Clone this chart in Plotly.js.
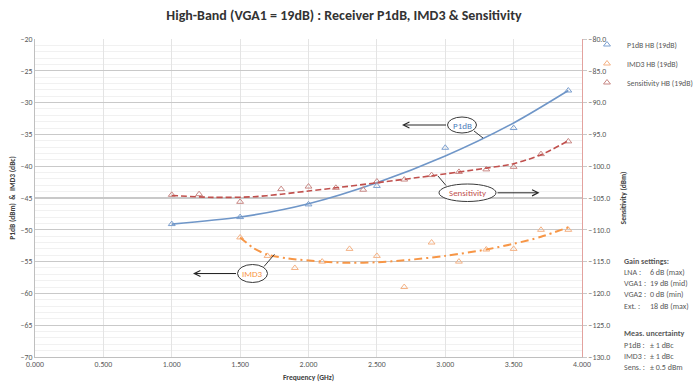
<!DOCTYPE html>
<html>
<head>
<meta charset="utf-8">
<script src="https://cdn.plot.ly/plotly-3.0.1.min.js"></script>
<style>
  html, body { margin: 0; padding: 0; background: #ffffff; }
  #chart { width: 696px; height: 384px; }
</style>
</head>
<body>
<div id="chart"></div>
<script>
// ---- Data ----
const freqP1dB = [1.0, 1.5, 2.0, 2.5, 3.0, 3.5, 3.9];
const p1dB     = [-49.1, -48.0, -46.0, -43.1, -37.1, -34.0, -28.1];

const freqIMD3 = [1.5, 1.7, 1.9, 2.1, 2.3, 2.5, 2.7, 2.9, 3.1, 3.3, 3.5, 3.7, 3.9];
const imd3     = [-51.2, -54.1, -56.0, -55.0, -53.0, -54.1, -59.0, -52.0, -55.0, -53.1, -53.0, -50.0, -50.0];

const freqSens = [1.0, 1.2, 1.5, 1.8, 2.0, 2.2, 2.4, 2.5, 2.7, 2.9, 3.1, 3.3, 3.5, 3.7, 3.9];
const sens     = [-104.5, -104.4, -105.6, -103.6, -103.2, -103.4, -103.7, -102.4, -102.1, -101.4, -100.9, -100.5, -100.1, -98.1, -96.1];

// Trendlines
const p1dBTrendX = [1.0, 1.5, 2.0, 2.5, 3.0, 3.5, 3.9];
const p1dBTrendY = [-49.1, -48.0, -45.9, -42.6, -38.4, -33.2, -28.1];

const sensTrendX = [1.0, 1.3, 1.6, 1.8, 2.0, 2.2, 2.5, 2.9, 3.3, 3.5, 3.7, 3.9];
const sensTrendY = [-104.6, -104.9, -104.8, -104.4, -103.9, -103.4, -102.6, -101.5, -100.3, -99.6, -98.2, -96.0];

const imd3TrendX = [1.5, 1.6, 1.7, 1.85, 2.1, 2.3, 2.5, 2.7, 3.0, 3.3, 3.5, 3.7, 3.9];
const imd3TrendY = [-51.2, -52.9, -53.9, -54.5, -55.0, -55.2, -55.1, -54.8, -54.1, -53.1, -52.2, -51.1, -49.6];

const seriesNames = ['P1dB HB (19dB)', 'IMD3 HB (19dB)', 'Sensitivity HB (19dB)'];
const titleText = 'High-Band (VGA1 = 19dB) : Receiver P1dB, IMD3 &amp; Sensitivity';
const xTitle = 'Frequency (GHz)';
const yTitle = 'P1dB (dBm)  &amp;  IMD3 (dBc)';
const y2Title = 'Sensitivity (dBm)';
const gainLabels = ['LNA :', 'VGA1 :', 'VGA2 :', 'Ext. :'];
const gainValues = ['6 dB (max)', '19 dB (mid)', '0 dB (min)', '18 dB (max)'];
const uncLabels = ['P1dB :', 'IMD3 :', 'Sens. :'];
const uncValues = ['± 1 dBc', '± 1 dBc', '± 0.5 dBm'];

// ---- Styling ----
const FONT = 'Carlito, Lato, "Liberation Sans", sans-serif';
const BLUE = '#4f81bd', RED = '#c0504d', ORANGE = '#f79646';
const M = {l: 35, r: 114, t: 39, b: 27, autoexpand: false};
const W = 696 - M.l - M.r, H = 384 - M.t - M.b;
const PX = px => (px - M.l) / W;          // page pixel -> paper x
const PY = py => (384 - M.b - py) / H;    // page pixel -> paper y

const traces = [
  {x: freqP1dB, y: p1dB, name: seriesNames[0], type: 'scatter', mode: 'markers',
   marker: {symbol: 'triangle-up-open', size: 6, color: '#7b9fcf', line: {width: 1}}},
  {x: freqIMD3, y: imd3, name: seriesNames[1], type: 'scatter', mode: 'markers',
   marker: {symbol: 'triangle-up-open', size: 6, color: '#f4b183', line: {width: 1}}},
  {x: freqSens, y: sens, name: seriesNames[2], type: 'scatter', mode: 'markers', yaxis: 'y2',
   marker: {symbol: 'triangle-up-open', size: 6, color: '#c88784', line: {width: 1}}},
  {x: p1dBTrendX, y: p1dBTrendY, type: 'scatter', mode: 'lines', showlegend: false, hoverinfo: 'skip',
   line: {color: '#6f96c8', width: 1.6, shape: 'spline', smoothing: 0.8}},
  {x: sensTrendX, y: sensTrendY, type: 'scatter', mode: 'lines', showlegend: false, hoverinfo: 'skip', yaxis: 'y2',
   line: {color: RED, width: 1.6, dash: '6px,3px', shape: 'spline', smoothing: 0.8}},
  {x: imd3TrendX, y: imd3TrendY, type: 'scatter', mode: 'lines', showlegend: false, hoverinfo: 'skip',
   line: {color: ORANGE, width: 2, dash: '8px,4px,2px,4px', shape: 'spline', smoothing: 0.8}}
];

const txt = {family: FONT, size: 8, color: '#595959'};
const annotations = [];
const shapes = [];

// Gain settings / measurement uncertainty text block
const boxX1 = PX(622), boxX2 = PX(648);
annotations.push({xref: 'paper', yref: 'paper', x: boxX1, y: PY(261), xanchor: 'left', yanchor: 'middle',
  text: '<b>Gain settings:</b>', showarrow: false, font: txt});
[272, 283, 294, 306].forEach((py, i) => {
  annotations.push({xref: 'paper', yref: 'paper', x: boxX1, y: PY(py), xanchor: 'left', yanchor: 'middle',
    text: gainLabels[i], showarrow: false, font: txt});
  annotations.push({xref: 'paper', yref: 'paper', x: boxX2, y: PY(py), xanchor: 'left', yanchor: 'middle',
    text: gainValues[i], showarrow: false, font: txt});
});
annotations.push({xref: 'paper', yref: 'paper', x: boxX1, y: PY(333), xanchor: 'left', yanchor: 'middle',
  text: '<b>Meas. uncertainty</b>', showarrow: false, font: txt});
[345, 356, 367].forEach((py, i) => {
  annotations.push({xref: 'paper', yref: 'paper', x: boxX1, y: PY(py), xanchor: 'left', yanchor: 'middle',
    text: uncLabels[i], showarrow: false, font: txt});
  annotations.push({xref: 'paper', yref: 'paper', x: boxX2, y: PY(py), xanchor: 'left', yanchor: 'middle',
    text: uncValues[i], showarrow: false, font: txt});
});

// Callouts: ellipse + label + connector + arrow
const callouts = [
  {label: 'P1dB', color: BLUE, ex: [447.5, 476.5], ey: [117, 133], conn: [[474, 131], [483, 138]],
   head: [402, 125], tailDx: 45.5},
  {label: 'Sensitivity', color: RED, ex: [439, 496], ey: [184, 201.5], conn: [[446, 185.5], [438, 176]],
   head: [539.5, 192.8], tailDx: -43.5},
  {label: 'IMD3', color: ORANGE, ex: [237.5, 267.5], ey: [264.5, 282.5], conn: [[264, 266.5], [274.5, 254.3]],
   head: [193, 273.5], tailDx: 44.5}
];
callouts.forEach(c => {
  shapes.push({type: 'circle', xref: 'paper', yref: 'paper',
    x0: PX(c.ex[0]), x1: PX(c.ex[1]), y0: PY(c.ey[1]), y1: PY(c.ey[0]),
    line: {color: '#3a3a3a', width: 1}, fillcolor: 'rgba(255,255,255,1)'});
  shapes.push({type: 'line', xref: 'paper', yref: 'paper',
    x0: PX(c.conn[0][0]), y0: PY(c.conn[0][1]), x1: PX(c.conn[1][0]), y1: PY(c.conn[1][1]),
    line: {color: '#3a3a3a', width: 1}});
  annotations.push({xref: 'paper', yref: 'paper', x: PX((c.ex[0] + c.ex[1]) / 2), y: PY((c.ey[0] + c.ey[1]) / 2),
    xanchor: 'center', yanchor: 'middle', text: c.label, showarrow: false,
    font: {family: FONT, size: 9, color: c.color}});
  annotations.push({xref: 'paper', yref: 'paper', x: PX(c.head[0]), y: PY(c.head[1]),
    ax: c.tailDx, ay: 0, axref: 'pixel', ayref: 'pixel', text: '', showarrow: true,
    arrowhead: 5, arrowsize: 1.2, arrowwidth: 1, arrowcolor: '#262626', standoff: 0});
});

const tickFont = {family: FONT, size: 7.8, color: '#595959'};
const axTitleFont = {family: FONT, size: 7.5, color: '#404040'};

const layout = {
  width: 696, height: 384,
  margin: M,
  paper_bgcolor: '#ffffff', plot_bgcolor: '#ffffff',
  font: {family: FONT, color: '#595959', size: 7.5},
  title: {text: '<b>' + titleText + '</b>', font: {family: FONT, size: 14, color: '#333333'},
          x: 344 / 696, xanchor: 'center', xref: 'container',
          y: 1 - 15 / 384, yanchor: 'middle', yref: 'container'},
  showlegend: true,
  legend: {x: PX(587), y: PY(30), xanchor: 'left', yanchor: 'top',
           font: {family: FONT, size: 7.8, color: '#595959'}, bgcolor: 'rgba(0,0,0,0)',
           itemwidth: 30, tracegroupgap: 0},
  xaxis: {range: [0, 4], dtick: 0.5, tick0: 0, tickformat: '.3f',
          showgrid: true, gridcolor: '#e4e4e4', gridwidth: 1,
          showline: true, linecolor: '#bfbfbf', linewidth: 1, zeroline: false, ticks: '',
          tickfont: tickFont,
          title: {text: '<b>' + xTitle + '</b>', font: axTitleFont, standoff: 6}},
  yaxis: {range: [-70, -20], dtick: 5, tick0: -70,
          showgrid: true, gridcolor: '#c9c9c9', gridwidth: 1.3,
          minor: {dtick: 1, showgrid: true, gridcolor: '#f1f1f1', gridwidth: 1},
          showline: true, linecolor: '#bfbfbf', linewidth: 1, zeroline: false, ticks: '',
          tickfont: tickFont,
          title: {text: '<b>' + yTitle + '</b>', font: axTitleFont, standoff: 4}},
  yaxis2: {range: [-130, -80], dtick: 5, tick0: -130, tickformat: '.1f', overlaying: 'y', side: 'right',
           showgrid: false, showline: true, linecolor: '#e3a29e', linewidth: 1, zeroline: false,
           ticks: 'outside', ticklen: 4, tickcolor: '#c9c9c9',
           tickfont: tickFont,
           title: {text: '<b>' + y2Title + '</b>', font: axTitleFont, standoff: 11}},
  annotations: annotations,
  shapes: shapes
};

Plotly.newPlot('chart', traces, layout, {displayModeBar: false, staticPlot: true});
</script>
</body>
</html>
